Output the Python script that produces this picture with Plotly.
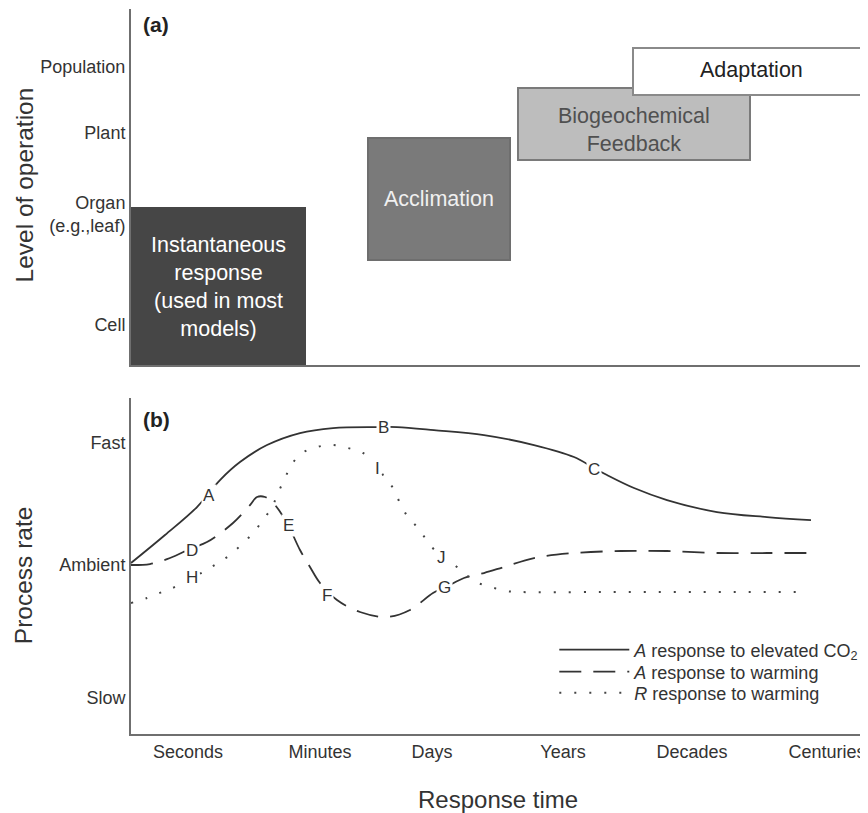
import plotly.graph_objects as go

FONT = "Liberation Sans, Arial, Helvetica, sans-serif"

# ---- panel (a): level of operation boxes (x in response-time units, y in level units)
box_names = ["Instantaneous<br>response<br>(used in most<br>models)", "Acclimation",
             "Biogeochemical<br>Feedback", "Adaptation"]
box_x0 = [0.0, 23.7, 38.7, 50.2]
box_x1 = [17.4, 37.9, 61.9, 73.5]
box_y0 = [0.0, 10.5, 20.5, 27.0]
box_y1 = [15.7, 22.7, 27.7, 31.7]
box_fill = ["#464646", "#7a7a7a", "#bdbdbd", "#ffffff"]
box_line = ["#464646", "#6e6e6e", "#7a7a7a", "#8a8a8a"]
box_text_color = ["#ffffff", "#f0f0f0", "#505050", "#222222"]
box_text_x = [8.7, 30.8, 50.3, 62.0]
box_text_y = [7.8, 16.6, 23.45, 29.5]

level_ticks = ["Population", "Plant", "Organ<br>(e.g.,leaf)", "Cell"]
level_vals = [29.8, 23.2, 15.1, 4.0]

# ---- panel (b): process rate curves
time_ticks = ["Seconds", "Minutes", "Days", "Years", "Decades", "Centuries"]
time_vals = [5.7, 18.9, 30.1, 43.2, 56.1, 69.6]
rate_ticks = ["Fast", "Ambient", "Slow"]
rate_vals = [29.1, 16.9, 3.6]

co2_x = [0.0, 3.4, 6.6, 8.9, 10.9, 13.6, 16.9, 20.2, 24.6, 26.6, 30.3, 35.3, 40.3,
         44.3, 46.3, 47.6, 50.3, 53.6, 58.6, 63.6, 68.0]
co2_y = [17.1, 19.9, 22.7, 25.4, 27.2, 28.9, 30.1, 30.6, 30.7, 30.7, 30.4, 29.9, 28.9,
         27.7, 26.6, 25.9, 24.6, 23.4, 22.2, 21.7, 21.4]

warmA_x = [0.0, 1.9, 3.9, 6.1, 7.6, 10.2, 11.9, 12.6, 13.4, 14.4, 15.7, 16.9, 17.9, 18.9,
           20.6, 22.9, 25.6, 27.9, 30.2, 31.5, 33.3, 35.3, 37.3, 40.3, 44.3, 49.0, 53.6,
           58.6, 63.6, 68.0]
warmA_y = [16.9, 17.0, 17.6, 18.6, 19.2, 21.1, 22.9, 23.7, 23.7, 22.9, 20.9, 18.4, 16.7, 15.1,
           13.4, 12.2, 11.7, 12.4, 14.1, 14.7, 15.6, 16.1, 16.7, 17.6, 18.1, 18.3, 18.3,
           18.1, 18.1, 18.1]

warmR_x = [0.0, 1.6, 3.1, 4.6, 7.2, 8.7, 9.9, 11.1, 12.2, 13.2, 14.1, 14.7, 15.4, 16.1,
           17.1, 18.6, 20.1, 21.7, 23.2, 24.6, 25.2, 26.2, 26.9, 27.7, 28.7, 29.7, 31.1,
           32.1, 33.3, 34.5, 36.0, 37.5, 39.0, 46.9, 56.9, 67.6]
warmR_y = [13.1, 13.6, 14.2, 14.8, 16.2, 17.1, 17.9, 19.0, 20.1, 21.4, 22.7, 24.1, 25.6, 27.0,
           28.1, 28.7, 28.9, 28.6, 28.1, 27.2, 25.9, 24.6, 23.1, 21.7, 20.6, 19.2, 17.6,
           17.1, 16.1, 15.2, 14.7, 14.3, 14.2, 14.2, 14.2, 14.2]

point_labels = ["A", "B", "C", "D", "E", "F", "G", "H", "I", "J"]
point_x = [7.8, 25.2, 46.3, 6.1, 15.7, 19.6, 31.3, 6.1, 24.6, 31.0]
point_y = [23.9, 30.7, 26.5, 18.4, 20.9, 13.9, 14.7, 15.7, 26.6, 17.7]

fig = go.Figure()

fig.add_trace(go.Scatter(x=co2_x, y=co2_y, mode="lines", xaxis="x2", yaxis="y2",
                         line=dict(color="#333333", width=1.8, shape="spline"),
                         legend="legend",
                         name="<i>A</i> response to elevated CO<sub>2</sub>"))
fig.add_trace(go.Scatter(x=warmA_x, y=warmA_y, mode="lines", xaxis="x2", yaxis="y2",
                         line=dict(color="#333333", width=1.8, dash="22px,12px", shape="spline"),
                         legend="legend2",
                         name="<i>A</i> response to warming"))
fig.add_trace(go.Scatter(x=warmR_x, y=warmR_y, mode="lines", xaxis="x2", yaxis="y2",
                         line=dict(color="#444444", width=2, dash="2px,13px", shape="spline"),
                         legend="legend3",
                         name="<i>R</i> response to warming"))

shapes = []
annotations = []
for i in range(len(box_names)):
    shapes.append(dict(type="rect", xref="x", yref="y", x0=box_x0[i], x1=box_x1[i],
                       y0=box_y0[i], y1=box_y1[i], fillcolor=box_fill[i],
                       line=dict(color=box_line[i], width=2), layer="above"))
    annotations.append(dict(xref="x", yref="y", x=box_text_x[i], y=box_text_y[i],
                            text=box_names[i], showarrow=False,
                            xanchor="center", yanchor="middle",
                            font=dict(family=FONT, size=21.5, color=box_text_color[i])))

for lab, px, py in zip(point_labels, point_x, point_y):
    annotations.append(dict(xref="x2", yref="y2", x=px, y=py, text=lab, showarrow=False,
                            xanchor="center", yanchor="middle",
                            bgcolor="white", borderpad=1,
                            font=dict(family=FONT, size=17, color="#333333")))

annotations += [
    dict(xref="paper", yref="paper", x=0.0136, y=0.979, xanchor="left", yanchor="middle",
         text="<b>(a)</b>", showarrow=False, font=dict(family=FONT, size=21, color="#222")),
    dict(xref="paper", yref="paper", x=0.0136, y=0.434, xanchor="left", yanchor="middle",
         text="<b>(b)</b>", showarrow=False, font=dict(family=FONT, size=21, color="#222")),
    dict(xref="paper", yref="paper", x=-0.1458, y=0.758, textangle=-90,
         xanchor="center", yanchor="middle",
         text="Level of operation", showarrow=False,
         font=dict(family=FONT, size=24.5, color="#333")),
    dict(xref="paper", yref="paper", x=-0.1472, y=0.219, textangle=-90,
         xanchor="center", yanchor="middle",
         text="Process rate", showarrow=False,
         font=dict(family=FONT, size=24.5, color="#333")),
    dict(xref="paper", yref="paper", x=0.5, y=-0.091, xanchor="center", yanchor="middle",
         text="Response time", showarrow=False,
         font=dict(family=FONT, size=24, color="#333")),
]

axis_common = dict(showgrid=False, zeroline=False, showline=True, linewidth=2,
                   linecolor="#6f6f6f", ticks="", tickfont=dict(family=FONT, size=18, color="#333"))

legend_common = dict(xanchor="left", yanchor="middle", itemwidth=70,
                     bgcolor="rgba(0,0,0,0)", tracegroupgap=0,
                     font=dict(family=FONT, size=18, color="#333"))

fig.update_layout(
    width=860, height=805,
    margin=dict(l=123, r=3, t=1, b=79),
    paper_bgcolor="white", plot_bgcolor="white",
    font=dict(family=FONT, color="#333"),
    shapes=shapes, annotations=annotations,
    xaxis=dict(domain=[0, 1], anchor="y", range=[0, 73.4], showticklabels=False, **axis_common),
    yaxis=dict(domain=[0.509, 1], anchor="x", range=[0, 35.6], tickvals=level_vals,
               ticktext=level_ticks, **axis_common),
    xaxis2=dict(domain=[0, 1], anchor="y2", range=[0, 73.4], tickvals=time_vals,
                ticktext=time_ticks, **axis_common),
    yaxis2=dict(domain=[0, 0.4634], anchor="x2", range=[0, 33.6], tickvals=rate_vals,
                ticktext=rate_ticks, **axis_common),
    showlegend=True,
    legend=dict(x=0.5767, y=0.1159, **legend_common),
    legend2=dict(x=0.5767, y=0.0855, **legend_common),
    legend3=dict(x=0.5767, y=0.0566, **legend_common),
)

fig.write_html("out.html")
